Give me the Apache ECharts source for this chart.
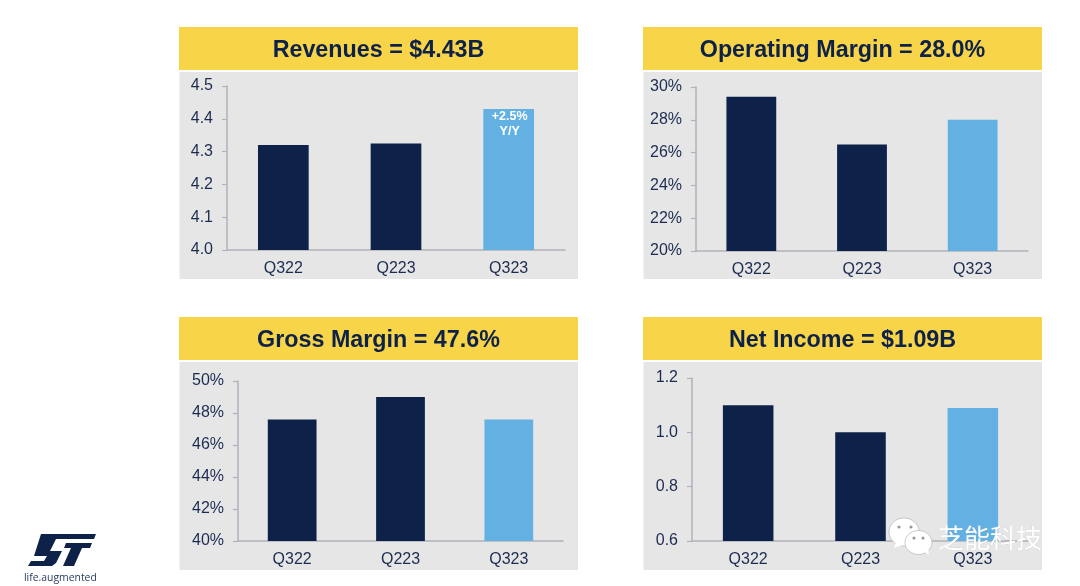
<!DOCTYPE html>
<html><head><meta charset="utf-8">
<style>html,body{margin:0;padding:0;background:#fff}#c{width:1080px;height:586px}</style>
<script src="https://cdn.jsdelivr.net/npm/echarts@6/dist/echarts.min.js"></script>
</head><body><div id="c"></div>
<script>
const categories = ['Q322','Q223','Q323'];
const titles = ['Revenues = $4.43B','Operating Margin = 28.0%','Gross Margin = 47.6%','Net Income = $1.09B'];
const revenues = [4.32,4.325,4.43];
const operatingMargin = [29.4,26.5,28.0];
const grossMargin = [47.6,49.0,47.6];
const netIncome = [1.10,1.00,1.09];
const yRanges = [[4.0,4.5,0.1],[20,30,2],[40,50,2],[0.6,1.2,0.2]];
const formats = [v=>v.toFixed(1), v=>v+'%', v=>v+'%', v=>v.toFixed(1)];
const annotation = '+2.5%\nY/Y';
const values = [revenues,operatingMargin,grossMargin,netIncome];

const NAVY='#0d2149', BLUE='#62b1e2', GOLD='#f8d448', GREY='#e6e6e6', TXT='#1c2c50', AX='#b0b2bb';
const FONT='"Liberation Sans",Arial,sans-serif';
const panels=[
 {x:179,y:27,w:399,t:86,b:250,l:227,r:565,gb:279},
 {x:643,y:27,w:399,t:87,b:251,l:696,r:1028,gb:279},
 {x:179,y:317,w:399,t:381,b:541,l:238,r:563,gb:570},
 {x:643,y:317,w:399,t:378,b:541,l:692,r:1029,gb:570}];

const graphic=[];
panels.forEach((p,i)=>{
 graphic.push({type:'rect',z:0,silent:true,shape:{x:p.x+0.5,y:p.y+45,width:p.w-0.5,height:p.gb-p.y-45},style:{fill:GREY}});
 graphic.push({type:'rect',z:0,silent:true,shape:{x:p.x,y:p.y,width:p.w,height:43},style:{fill:GOLD}});
 graphic.push({type:'text',z:1,silent:true,x:p.x+p.w/2,y:p.y+23.5,style:{text:titles[i],fill:NAVY,font:'bold 23.3px '+FONT,textAlign:'center',textVerticalAlign:'middle'}});
});
// ST logo
graphic.push({type:'polygon',z:5,silent:true,shape:{points:[[41,534],[96,534],[94,539],[56,539],[50,551],[62,551],[56,563],[52,566],[28,566],[31,561],[44,561],[47,556],[34,556]]},style:{fill:NAVY}});
graphic.push({type:'polygon',z:5,silent:true,shape:{points:[[66,543],[92,543],[90,548],[82,548],[74,566],[63,566],[71,548],[64,548]]},style:{fill:NAVY}});
graphic.push({type:'text',z:5,silent:true,x:24,y:578,style:{text:'life.augmented',fill:'#2a3a5e',font:'10.4px "Open Sans",sans-serif',textVerticalAlign:'middle'}});
// WeChat-style watermark
const wm=(cx,cy,rx,ry)=>({type:'ellipse',z:20,silent:true,shape:{cx,cy,rx,ry},style:{fill:'#fff',stroke:'#b5b5b5',lineWidth:0.7}});
graphic.push(wm(904,532,15,14));
graphic.push({type:'polygon',z:20,silent:true,shape:{points:[[896,542],[894,548],[903,545]]},style:{fill:'#fff'}});
graphic.push(wm(918.5,542.5,13.5,12));
graphic.push({type:'polygon',z:21,silent:true,shape:{points:[[923,551],[929,555],[928,548]]},style:{fill:'#fff'}});
[[899,527],[911,527],[914,538],[923,538]].forEach(d=>graphic.push({type:'circle',z:22,silent:true,shape:{cx:d[0],cy:d[1],r:1.6},style:{fill:'#999'}}));
graphic.push({type:'text',z:22,silent:true,x:938,y:538,style:{text:'芝能科技',fill:'#fff',stroke:'#aaa',lineWidth:0.2,font:'26px "Noto Sans CJK SC",sans-serif',textVerticalAlign:'middle'}});

const grid=[],xAxis=[],yAxis=[],series=[];
panels.forEach((p,i)=>{
 grid.push({left:p.l,top:p.t,width:p.r-p.l,height:p.b-p.t,containLabel:false});
 xAxis.push({type:'category',gridIndex:i,data:categories,
  axisLine:{show:true,lineStyle:{color:AX,width:1.5}},axisTick:{show:false},
  axisLabel:{color:TXT,fontSize:16,fontFamily:FONT,margin:11}});
 const [mn,mx,iv]=yRanges[i];
 yAxis.push({type:'value',gridIndex:i,min:mn,max:mx,interval:iv,
  splitLine:{show:false},axisLine:{show:true,lineStyle:{color:AX,width:1.5}},
  axisTick:{show:true,length:5,lineStyle:{color:AX,width:1.2}},
  axisLabel:{color:TXT,fontSize:16,fontFamily:FONT,margin:14,padding:[4,0,0,0],formatter:formats[i]}});
 series.push({type:'bar',xAxisIndex:i,yAxisIndex:i,barWidth:'45%',z:3,
  data:values[i].map((v,j)=>{
   const d={value:v,itemStyle:{color:j===2?BLUE:NAVY}};
   if(i===0&&j===2)d.label={show:true,position:'insideTop',distance:0,offset:[1,0],formatter:annotation,color:'#fff',fontWeight:'bold',fontSize:12.5,lineHeight:15,fontFamily:FONT};
   return d;})});
});
const chart=echarts.init(document.getElementById('c'),null,{renderer:'canvas'});
chart.setOption({animation:false,backgroundColor:'#fff',grid,xAxis,yAxis,series,graphic:{elements:graphic}});
</script></body></html>
